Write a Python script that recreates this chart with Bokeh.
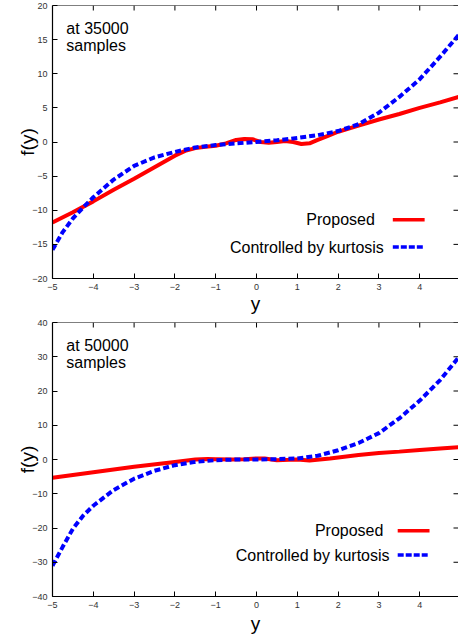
from bokeh.plotting import figure
from bokeh.models import LinearAxis, FixedTicker, Label, Range1d, Span
from bokeh.layouts import column
from bokeh.embed import file_html
from bokeh.resources import INLINE

# ---------------- data ----------------
# Top panel: at 35000 samples
top_prop_x = [-5, -4.5, -4, -3.5, -3, -2.5, -2, -1.75, -1.5, -1.25, -1, -0.75, -0.5, -0.3, -0.1,
              0.1, 0.3, 0.5, 0.7, 0.9, 1.1, 1.3, 1.5, 1.75, 2, 2.5, 3, 3.5, 4, 4.5, 5]
top_prop_y = [-11.8, -10.3, -8.7, -7.0, -5.4, -3.7, -2.0, -1.3, -0.9, -0.7, -0.55, -0.2, 0.3, 0.45, 0.4,
              0.0, -0.1, 0.0, 0.15, 0.0, -0.3, -0.2, 0.3, 0.9, 1.5, 2.4, 3.3, 4.1, 5.0, 5.8, 6.7]
top_kurt_x = [-5, -4.75, -4.5, -4.25, -4, -3.5, -3, -2.5, -2, -1.5, -1, -0.5, 0,
              0.5, 1, 1.5, 2, 2.5, 3, 3.5, 4, 4.5, 5]
top_kurt_y = [-15.8, -13.2, -11.2, -9.6, -8.1, -5.5, -3.5, -2.25, -1.45, -0.8, -0.45, -0.2, 0.0,
              0.25, 0.6, 1.0, 1.6, 2.6, 4.3, 6.6, 9.2, 12.5, 16.0]

# Bottom panel: at 50000 samples
bot_prop_x = [-5, -4, -3, -2, -1.5, -1.2, -1, -0.6, -0.3, 0, 0.2, 0.5, 0.8, 1, 1.3,
              1.8, 2.5, 3, 3.5, 4, 4.5, 5]
bot_prop_y = [-5.3, -3.7, -2.1, -0.7, 0.0, 0.15, 0.1, 0.0, 0.1, 0.3, 0.3, -0.2, -0.1, 0.0, -0.3,
              0.3, 1.3, 1.9, 2.3, 2.8, 3.2, 3.6]
bot_kurt_x = [-5, -4.75, -4.5, -4.25, -4, -3.5, -3, -2.5, -2, -1.5, -1, -0.5, 0,
              0.5, 1, 1.5, 2, 2.5, 3, 3.5, 4, 4.5, 5]
bot_kurt_y = [-31.0, -25.5, -20.2, -16.4, -13.5, -8.9, -5.6, -3.3, -1.65, -0.7, -0.2, 0.0, 0.0,
              0.1, 0.3, 1.1, 2.7, 4.8, 7.7, 12.0, 17.2, 23.2, 30.5]

x_ticks = [-5, -4, -3, -2, -1, 0, 1, 2, 3, 4, 5]
top_y_ticks = [-20, -15, -10, -5, 0, 5, 10, 15, 20]
bot_y_ticks = [-40, -30, -20, -10, 0, 10, 20, 30, 40]

series_names = ["Proposed", "Controlled by kurtosis"]
panel_notes = [("at 35000", "samples"), ("at 50000", "samples")]

RED = "#ff0000"
BLUE = "#0000ff"
FONT = "Liberation Sans"
X_MIN, X_MAX = -5, 4.95
FRAME_W = 406
TICK_PX = 5


def make_panel(px, py, kx, ky, yr, yticks, note, legend_pos, height, frame_h, top_b, bottom_b,
               xlab_standoff):
    p = figure(width=458, height=height, output_backend="svg", toolbar_location=None,
               x_range=Range1d(X_MIN, X_MAX), y_range=Range1d(*yr),
               x_axis_location=None, y_axis_location=None,
               min_border_left=52, min_border_right=0,
               min_border_top=top_b, min_border_bottom=bottom_b)
    p.outline_line_color = None
    p.grid.visible = False
    p.background_fill_color = "white"
    p.border_fill_color = "white"

    def style(ax):
        ax.major_tick_in = TICK_PX
        ax.major_tick_out = 0
        ax.minor_tick_line_color = None
        ax.axis_line_color = "black"
        ax.axis_line_width = 1.2
        ax.major_tick_line_color = "black"
        ax.major_label_text_font = FONT
        ax.major_label_text_font_size = "9px"
        ax.major_label_text_color = "#333333"
        ax.major_label_standoff = 5
        ax.axis_label_text_font = FONT
        ax.axis_label_text_font_style = "normal"
        ax.axis_label_text_font_size = "19px"
        ax.axis_label_text_color = "black"

    xb = LinearAxis(ticker=FixedTicker(ticks=x_ticks), axis_label="y")
    style(xb)
    xb.axis_label_standoff = xlab_standoff
    p.add_layout(xb, "below")
    yl = LinearAxis(ticker=FixedTicker(ticks=yticks), axis_label="f(y)")
    style(yl)
    yl.axis_label_standoff = -9
    p.add_layout(yl, "left")

    # top border line and mirror ticks (gnuplot style)
    p.add_layout(Span(location=yr[1], dimension="width", line_color="black", line_width=1.2))
    dy = (yr[1] - yr[0]) / frame_h * TICK_PX
    dx = (X_MAX - X_MIN) / FRAME_W * TICK_PX
    p.segment(x0=x_ticks, y0=[yr[1]] * len(x_ticks), x1=x_ticks, y1=[yr[1] - dy] * len(x_ticks),
              line_color="black", line_width=1)
    p.segment(x0=[X_MAX] * len(yticks), y0=yticks, x1=[X_MAX - dx] * len(yticks), y1=yticks,
              line_color="black", line_width=1)

    p.line(px, py, line_color=RED, line_width=4)
    p.line(kx, ky, line_color=BLUE, line_width=4, line_dash="6 3")

    # panel note
    (nx, ny1, ny2) = note[0]
    for txt, yy in zip(note[1], (ny1, ny2)):
        p.add_layout(Label(x=nx, y=yy, text=txt, text_font=FONT, text_font_size="16px",
                           text_baseline="middle", text_align="left", text_color="black"))

    # legend (gnuplot style: right-justified text, then key sample)
    (t1x, t1y, t2x, t2y, kx0, kx1) = legend_pos
    p.add_layout(Label(x=t1x, y=t1y, text=series_names[0], text_font=FONT, text_font_size="16px",
                       text_baseline="middle", text_align="right", text_color="black"))
    p.add_layout(Label(x=t2x, y=t2y, text=series_names[1], text_font=FONT, text_font_size="16px",
                       text_baseline="middle", text_align="right", text_color="black"))
    p.line([kx0, kx1], [t1y, t1y], line_color=RED, line_width=3.5)
    p.line([kx0, kx1], [t2y, t2y], line_color=BLUE, line_width=3.5, line_dash="6 2")
    return p


top = make_panel(top_prop_x, top_prop_y, top_kurt_x, top_kurt_y, (-20, 20), top_y_ticks,
                 ((-4.66, 16.6, 14.1), panel_notes[0]),
                 (2.9, -11.4, 3.12, -15.4, 3.34, 4.12),
                 height=316, frame_h=273, top_b=5, bottom_b=38, xlab_standoff=0)
bot = make_panel(bot_prop_x, bot_prop_y, bot_kurt_x, bot_kurt_y, (-40, 40), bot_y_ticks,
                 ((-4.66, 33.4, 28.2), panel_notes[1]),
                 (3.11, -20.8, 3.26, -27.9, 3.46, 4.24),
                 height=323, frame_h=274, top_b=6, bottom_b=43, xlab_standoff=2)

layout = column(top, bot, spacing=0)
open("out.html", "w").write(file_html(layout, INLINE))
